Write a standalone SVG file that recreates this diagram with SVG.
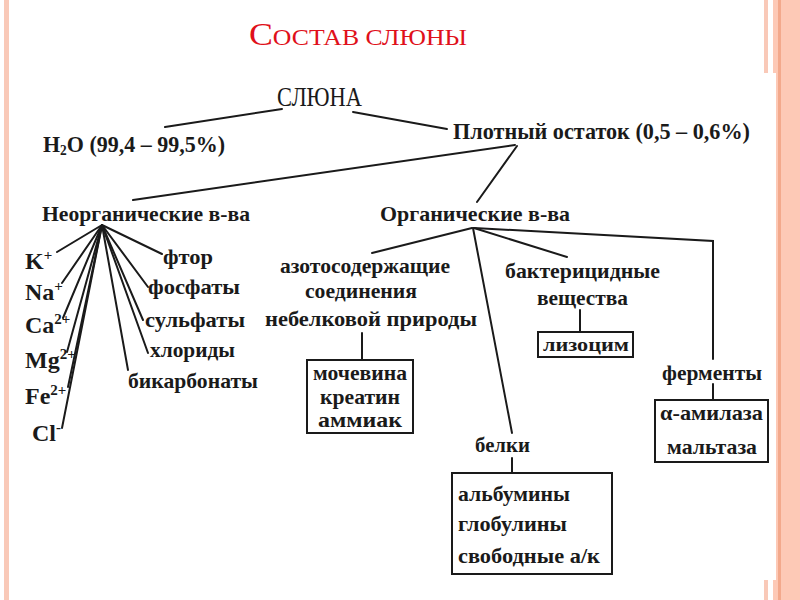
<svg xmlns="http://www.w3.org/2000/svg" width="800" height="600" viewBox="0 0 800 600">
<style>
  .t { font-family: "Liberation Serif", "DejaVu Serif", serif; font-weight: bold; fill: #1a1a1a; }
  .r { font-family: "Liberation Serif", "DejaVu Serif", serif; fill: #1a1a1a; }
  .ln { stroke: #1a1a1a; stroke-width: 2; fill: none; stroke-linecap: round; }
  .bx { stroke: #1a1a1a; stroke-width: 2; fill: #ffffff; }
  .sup { font-size: 15px; }
</style>
<rect x="0" y="0" width="800" height="600" fill="#ffffff"/>
<g id="frame">
  <rect x="4" y="0" width="5" height="600" fill="#f9c9b8"/>
  <rect x="764" y="0" width="4" height="600" fill="#f9c9b8"/>
  <rect x="773" y="0" width="27" height="600" fill="#fdc9b6"/>
  <rect x="778" y="0" width="3" height="600" fill="#f3a98c"/>
  <rect x="760" y="73" width="16" height="507" fill="#ffffff"/>
</g>
<g id="title">
  <text x="249" y="45" font-family="Liberation Serif, serif" fill="#e0101a" textLength="218" lengthAdjust="spacingAndGlyphs"><tspan font-size="32">С</tspan><tspan font-size="23">ОСТАВ СЛЮНЫ</tspan></text>
</g>
<g id="connectors">
  <line class="ln" x1="282" y1="109" x2="165" y2="127"/>
  <line class="ln" x1="353" y1="112" x2="447" y2="129"/>
  <line class="ln" x1="515" y1="145" x2="133" y2="200"/>
  <line class="ln" x1="517" y1="146" x2="477" y2="202"/>
  <line class="ln" x1="102" y1="225" x2="57" y2="252"/>
  <line class="ln" x1="102" y1="225" x2="62" y2="283"/>
  <line class="ln" x1="102" y1="225" x2="63" y2="318"/>
  <line class="ln" x1="102" y1="225" x2="67" y2="352"/>
  <line class="ln" x1="102" y1="225" x2="68" y2="387"/>
  <line class="ln" x1="102" y1="225" x2="62" y2="428"/>
  <line class="ln" x1="102" y1="225" x2="162" y2="254"/>
  <line class="ln" x1="102" y1="225" x2="148" y2="287"/>
  <line class="ln" x1="102" y1="225" x2="143" y2="320"/>
  <line class="ln" x1="102" y1="225" x2="148" y2="353"/>
  <line class="ln" x1="102" y1="225" x2="128" y2="370"/>
  <line class="ln" x1="472" y1="228" x2="372" y2="253"/>
  <line class="ln" x1="473" y1="228" x2="512" y2="433"/>
  <line class="ln" x1="474" y1="228" x2="567" y2="257"/>
  <polyline class="ln" points="474,228 713,241 713,359"/>
  <line class="ln" x1="362" y1="333" x2="362" y2="360"/>
  <line class="ln" x1="580" y1="310" x2="580" y2="332"/>
  <line class="ln" x1="713" y1="384" x2="713" y2="400"/>
  <line class="ln" x1="512" y1="458" x2="512" y2="473"/>
</g>
<g id="sluna"><text class="r" x="277" y="106" font-size="28" textLength="85" lengthAdjust="spacingAndGlyphs">СЛЮНА</text></g>
<g id="water"><text class="t" x="43" y="152" font-size="23" textLength="182" lengthAdjust="spacingAndGlyphs">H<tspan font-size="14" dy="3">2</tspan><tspan dy="-3">O (99,4 – 99,5%)</tspan></text></g>
<g id="residue"><text class="t" x="453" y="139" font-size="23" textLength="297" lengthAdjust="spacingAndGlyphs">Плотный остаток (0,5 – 0,6%)</text></g>
<g id="inorganic"><text class="t" x="42" y="221" font-size="22" textLength="208" lengthAdjust="spacingAndGlyphs">Неорганические в-ва</text></g>
<g id="organic"><text class="t" x="380" y="221" font-size="22" textLength="190" lengthAdjust="spacingAndGlyphs">Органические в-ва</text></g>
<g id="ions">
  <text class="t" x="25" y="269" font-size="24">K<tspan class="sup" dy="-9">+</tspan></text>
  <text class="t" x="25" y="300" font-size="24">Na<tspan class="sup" dy="-9">+</tspan></text>
  <text class="t" x="25" y="333" font-size="24">Ca<tspan class="sup" dy="-9">2+</tspan></text>
  <text class="t" x="25" y="368" font-size="24">Mg<tspan class="sup" dy="-9">2+</tspan></text>
  <text class="t" x="25" y="404" font-size="24">Fe<tspan class="sup" dy="-9">2+</tspan></text>
  <text class="t" x="32" y="441" font-size="24">Cl<tspan class="sup" dy="-9">-</tspan></text>
</g>
<g id="anions">
  <text class="t" x="163" y="264" font-size="22" textLength="50" lengthAdjust="spacingAndGlyphs">фтор</text>
  <text class="t" x="148" y="294" font-size="22" textLength="92" lengthAdjust="spacingAndGlyphs">фосфаты</text>
  <text class="t" x="145" y="327" font-size="22" textLength="100" lengthAdjust="spacingAndGlyphs">сульфаты</text>
  <text class="t" x="150" y="357" font-size="22" textLength="85" lengthAdjust="spacingAndGlyphs">хлориды</text>
  <text class="t" x="128" y="388" font-size="22" textLength="130" lengthAdjust="spacingAndGlyphs">бикарбонаты</text>
</g>
<g id="nitrogen">
  <text class="t" x="280" y="273" font-size="21" textLength="170" lengthAdjust="spacingAndGlyphs">азотосодержащие</text>
  <text class="t" x="305" y="298" font-size="21" textLength="112" lengthAdjust="spacingAndGlyphs">соединения</text>
  <text class="t" x="265" y="326" font-size="21" textLength="212" lengthAdjust="spacingAndGlyphs">небелковой природы</text>
</g>
<g id="nitrogen-box">
  <rect class="bx" x="307" y="360" width="106" height="73"/>
  <text class="t" x="313" y="380" font-size="21" textLength="94" lengthAdjust="spacingAndGlyphs">мочевина</text>
  <text class="t" x="320" y="404" font-size="21" textLength="80" lengthAdjust="spacingAndGlyphs">креатин</text>
  <text class="t" x="318" y="427" font-size="21" textLength="84" lengthAdjust="spacingAndGlyphs">аммиак</text>
</g>
<g id="bactericidal">
  <text class="t" x="505" y="278" font-size="21" textLength="155" lengthAdjust="spacingAndGlyphs">бактерицидные</text>
  <text class="t" x="537" y="305" font-size="21" textLength="91" lengthAdjust="spacingAndGlyphs">вещества</text>
</g>
<g id="lysozyme-box">
  <rect class="bx" x="538" y="332" width="95" height="25"/>
  <text class="t" x="543" y="351" font-size="19" textLength="86" lengthAdjust="spacingAndGlyphs">лизоцим</text>
</g>
<g id="enzymes"><text class="t" x="662" y="380" font-size="21" textLength="100" lengthAdjust="spacingAndGlyphs">ферменты</text></g>
<g id="enzymes-box">
  <rect class="bx" x="655" y="400" width="113" height="62"/>
  <text class="t" x="660" y="420" font-size="21" textLength="103" lengthAdjust="spacingAndGlyphs">α-амилаза</text>
  <text class="t" x="667" y="454" font-size="21" textLength="90" lengthAdjust="spacingAndGlyphs">мальтаза</text>
</g>
<g id="proteins"><text class="t" x="475" y="452" font-size="21" textLength="55" lengthAdjust="spacingAndGlyphs">белки</text></g>
<g id="proteins-box">
  <rect class="bx" x="452" y="473" width="160" height="101"/>
  <text class="t" x="458" y="501" font-size="21" textLength="112" lengthAdjust="spacingAndGlyphs">альбумины</text>
  <text class="t" x="458" y="531" font-size="21" textLength="109" lengthAdjust="spacingAndGlyphs">глобулины</text>
  <text class="t" x="458" y="563" font-size="21" textLength="142" lengthAdjust="spacingAndGlyphs">свободные а/к</text>
</g>
</svg>
